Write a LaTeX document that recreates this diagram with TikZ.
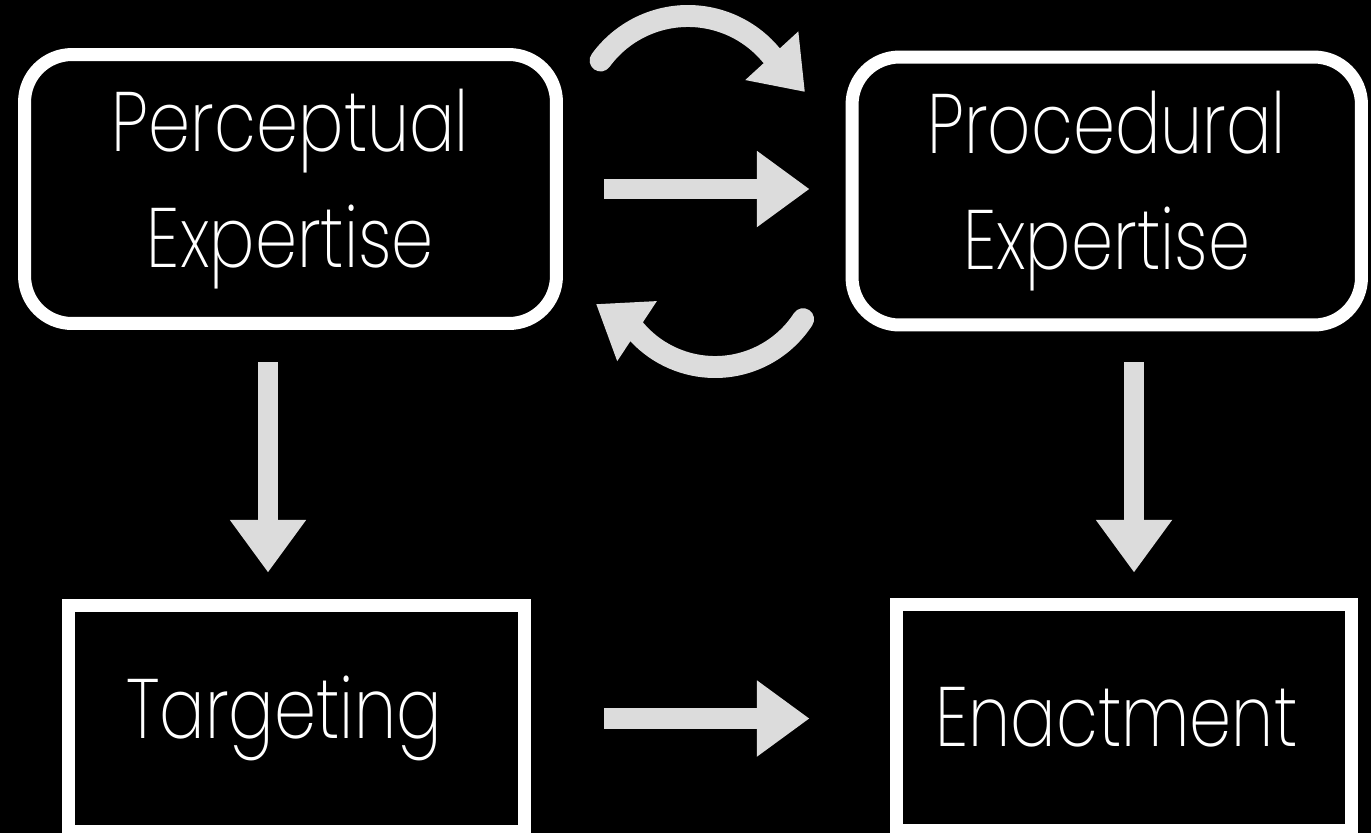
\documentclass[tikz,border=0pt]{standalone}
\usepackage{fontspec}
\newfontfamily\lab{Poppins ExtraLight}[FakeStretch=0.8]
\usetikzlibrary{arrows.meta}
\definecolor{arr}{HTML}{DCDCDC}
\begin{document}
\begin{tikzpicture}[x=0.02cm,y=-0.02cm,
  box/.style={draw=white, line width=7.4pt, fill=black, inner sep=0pt, text=white,
    align=center, font=\lab\fontsize{48}{66}\selectfont},
  rbox/.style={box, rounded corners=27pt},
  blk/.style={draw=arr, line width=11.9pt, -{Triangle[width=41.4pt,length=30pt]}},
  crv/.style={draw=arr, line width=12.5pt, line cap=round, -{Triangle[width=39pt,length=28pt]}}]
\fill[black] (0,0) rectangle (1371,833);
\useasboundingbox (0,0) rectangle (1371,833);
% boxes
\node[rbox, minimum width=10.64cm, minimum height=5.38cm] (P) at (290.5,189) {Perceptual\\Expertise};
\node[rbox, minimum width=10.19cm, minimum height=5.36cm] (Q) at (1106.75,191) {Procedural\\Expertise};
\node[box, minimum width=9.12cm, minimum height=4.52cm] (T) at (296.5,718.5) {\hspace*{-0.5cm}Targeting};
\node[box, minimum width=9.10cm, minimum height=4.52cm] (E) at (1124,717.5) {\hspace*{-0.3cm}Enactment};
% helper coordinates
\coordinate (a1) at (268,0);
\coordinate (a2) at (1134,0);
\coordinate (c1) at (600.6,60.5);
\coordinate (t1) at (805,92);
\coordinate (c2) at (803.1,319.2);
\coordinate (t2) at (596,304);
% straight arrows
\draw[blk, shorten <=0.83cm, shorten >=0.72cm] (P.east) -- (P.east -| Q.west);
\draw[blk, shorten <=1.47cm, shorten >=1.61cm] (T.east) -- (T.east -| E.west);
\draw[blk, shorten <=0.65cm, shorten >=0.53cm] (P.south -| a1) -- (T.north -| a1);
\draw[blk, shorten <=0.62cm, shorten >=0.51cm] (Q.south -| a2) -- (E.north -| a2);
% curved arrows
\draw[crv] (c1) arc[start angle=-144, end angle=-40, radius=108] -- (t1);
\draw[crv] (c2) arc[start angle=33, end angle=140, radius=105] -- (t2);
\end{tikzpicture}
\end{document}
